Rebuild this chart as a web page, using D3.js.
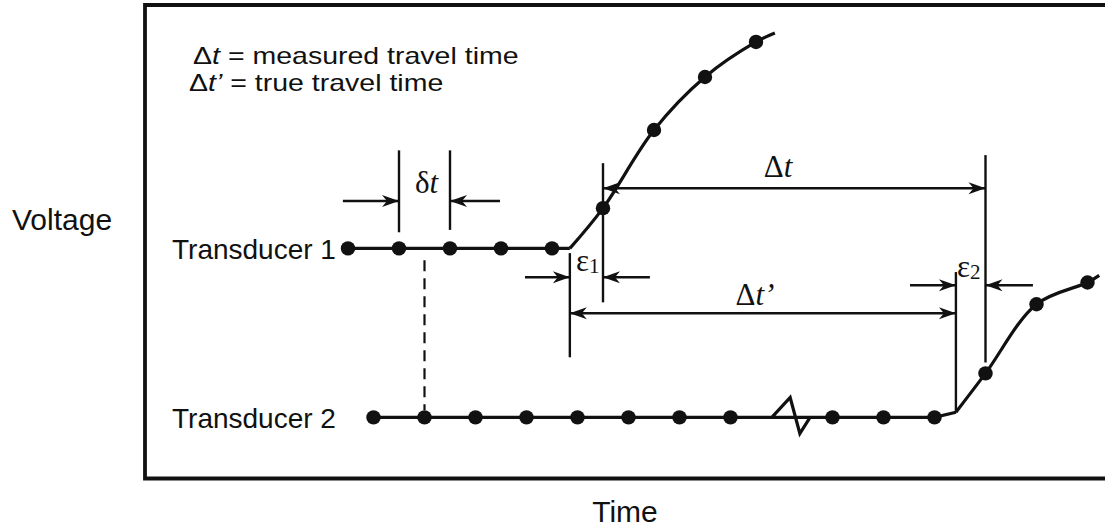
<html>
<meta charset="utf-8">
<script src="https://d3js.org/d3.v7.min.js"></script>
<style>
  body { margin: 0; background: #fff; }
  svg { display: block; }
  .sans { font-family: "Liberation Sans", Arial, sans-serif; fill: #111; }
  .serif { font-family: "Liberation Serif", "Times New Roman", serif; fill: #111; }
</style>
<body>
<script>
// time is in units of the sampling interval, voltage in arbitrary units
const t1Times = [0, 1, 2, 3, 4, 5, 6, 7, 8];
const t1Volts = [48.6, 48.6, 48.6, 48.6, 48.6, 57.1, 73.6, 84.8, 92.2];
const t1Onset = [4.35, 48.6];
const t1End = [8.37, 94.1];

const t2Times = [0.5, 1.5, 2.5, 3.5, 4.5, 5.5, 6.5, 7.5, 9.5, 10.5, 11.5, 12.5, 13.5, 14.5];
const t2Volts = [12.9, 12.9, 12.9, 12.9, 12.9, 12.9, 12.9, 12.9, 12.9, 12.9, 12.9, 22.2, 36.8, 41.4];
const t2Onset = [11.92, 14.0];
const t2End = [14.73, 42.9];
// broken time axis on transducer 2
const breakTimes = [8.31, 8.67, 8.86, 9.06];
const breakVolts = [12.9, 17.1, 9.5, 12.9];

// annotation lines: [time, voltFrom, voltTo]
const ticks = [
  [1, 69.3, 52.0], [2, 69.3, 52.5],          // dt
  [t1Onset[0], 47.6, 25.6], [5, 66.6, 37.2], // eps1
  [t2Onset[0], 43.6, 14.0], [12.5, 68.3, 24.5] // eps2
];
// arrows: [from, to, volt]
const arrows = [
  [-0.1, 1, 58.6], [2.98, 2, 58.6],
  [3.47, t1Onset[0], 42.5], [5.92, 5, 42.5],
  [11.02, t2Onset[0], 40.8], [13.43, 12.5, 40.8]
];
// double headed spans: [from, to, volt]
const spans = [
  [5, 12.5, 61.3],
  [t1Onset[0], t2Onset[0], 34.9]
];

const W = 1105, H = 529;
const svg = d3.select('body').append('svg')
  .attr('width', W)
  .attr('height', H);

const x = d3.scaleLinear().domain([0, 15]).range([348, 348 + 51 * 15]);
const y = d3.scaleLinear().domain([0, 100]).range([478.5, 5]);

// frame (open on the right)
svg.append('path')
  .attr('d', `M${W},5 H145 V478.5 H${W}`)
  .attr('fill', 'none')
  .attr('stroke', '#111')
  .attr('stroke-width', 3.8);

const line = d3.line().x(d => x(d[0])).y(d => y(d[1]));
const curve = d3.line().x(d => x(d[0])).y(d => y(d[1])).curve(d3.curveCatmullRom.alpha(0.5));

// transducer 1
const t1 = t1Times.map((t, i) => [t, t1Volts[i]]);
svg.append('path')
  .attr('d', line([t1[0], t1Onset]))
  .attr('fill', 'none').attr('stroke', '#111').attr('stroke-width', 3.2);
svg.append('path')
  .attr('d', curve([t1Onset, ...t1.filter(d => d[0] > t1Onset[0]), t1End]))
  .attr('fill', 'none').attr('stroke', '#111').attr('stroke-width', 3.2);

// transducer 2
const t2 = t2Times.map((t, i) => [t, t2Volts[i]]);
const brk = breakTimes.map((t, i) => [t, breakVolts[i]]);
svg.append('path')
  .attr('d', line([t2[0], ...brk, ...t2.filter(d => d[0] < t2Onset[0]), t2Onset]))
  .attr('fill', 'none').attr('stroke', '#111').attr('stroke-width', 3.2)
  .attr('stroke-linejoin', 'miter');
svg.append('path')
  .attr('d', curve([t2Onset, ...t2.filter(d => d[0] > t2Onset[0]), t2End]))
  .attr('fill', 'none').attr('stroke', '#111').attr('stroke-width', 3.2);

svg.selectAll('.dot').data(t1.concat(t2))
  .enter()
  .append('circle')
  .attr('class', 'dot')
  .attr('cx', d => x(d[0]))
  .attr('cy', d => y(d[1]))
  .attr('r', 7.2)
  .attr('fill', '#111');

// dashed guide from transducer 2 sample up to transducer 1
svg.append('line')
  .attr('x1', x(1.5)).attr('x2', x(1.5))
  .attr('y1', y(46.1)).attr('y2', y(14.4))
  .attr('stroke', '#111').attr('stroke-width', 2.2)
  .attr('stroke-dasharray', '11,7');

svg.selectAll('.tick').data(ticks)
  .enter()
  .append('line')
  .attr('class', 'tick')
  .attr('x1', d => x(d[0])).attr('x2', d => x(d[0]))
  .attr('y1', d => y(d[1])).attr('y2', d => y(d[2]))
  .attr('stroke', '#111')
  .attr('stroke-width', 2.4);

const head = 'M0,0 L-17,-6 L-12,0 L-17,6 Z';

function arrowHead(px, py, dir) {
  svg.append('path')
    .attr('d', head)
    .attr('transform', `translate(${px},${py}) scale(${dir},1)`)
    .attr('fill', '#111');
}

arrows.forEach(a => {
  const x0 = x(a[0]), x1 = x(a[1]), yy = y(a[2]);
  svg.append('line')
    .attr('x1', x0).attr('x2', x1).attr('y1', yy).attr('y2', yy)
    .attr('stroke', '#111').attr('stroke-width', 2.6);
  arrowHead(x1, yy, x1 > x0 ? 1 : -1);
});

spans.forEach(s => {
  const x0 = x(s[0]), x1 = x(s[1]), yy = y(s[2]);
  svg.append('line')
    .attr('x1', x0).attr('x2', x1).attr('y1', yy).attr('y2', yy)
    .attr('stroke', '#111').attr('stroke-width', 2.6);
  arrowHead(x0, yy, -1);
  arrowHead(x1, yy, 1);
});

// greek labels
function greek(tx, ty, main, sub, italic, anchor) {
  const t = svg.append('text')
    .attr('class', 'serif')
    .attr('x', tx).attr('y', ty)
    .attr('text-anchor', anchor || 'start')
    .style('font-size', '31px');
  t.append('tspan').text(main);
  if (italic) t.append('tspan').style('font-style', 'italic').text(italic);
  if (sub) t.append('tspan').attr('dy', 2).style('font-size', '21px').text(sub);
}

greek(x(1.5) + 2, 193, 'δ', null, 't', 'middle');
greek(778, 177, 'Δ', null, 't', 'middle');
greek(755, 305, 'Δ', null, 't’', 'middle');
greek(576, 271, 'ε', '1', null);
greek(957, 277, 'ε', '2', null);

// legend
function legend(tx, ty, prime, rest) {
  const t = svg.append('text')
    .attr('class', 'sans')
    .attr('transform', `translate(${tx},${ty}) scale(1.24,1)`)
    .style('font-size', '23px');
  t.append('tspan').text('Δ');
  t.append('tspan').style('font-style', 'italic').text(prime ? 't’' : 't');
  t.append('tspan').text(rest);
}
legend(193, 64, false, ' = measured travel time');
legend(189, 91, true, ' = true travel time');

svg.append('text').attr('class', 'sans')
  .attr('x', 172).attr('y', 259)
  .style('font-size', '28px')
  .text('Transducer 1');
svg.append('text').attr('class', 'sans')
  .attr('x', 172).attr('y', 428)
  .style('font-size', '28px')
  .text('Transducer 2');

svg.append('text').attr('class', 'sans')
  .attr('x', 12).attr('y', 230)
  .style('font-size', '30px')
  .text('Voltage');
svg.append('text').attr('class', 'sans')
  .attr('x', 625).attr('y', 522)
  .attr('text-anchor', 'middle')
  .style('font-size', '30px')
  .text('Time');
</script>
</body>
</html>
